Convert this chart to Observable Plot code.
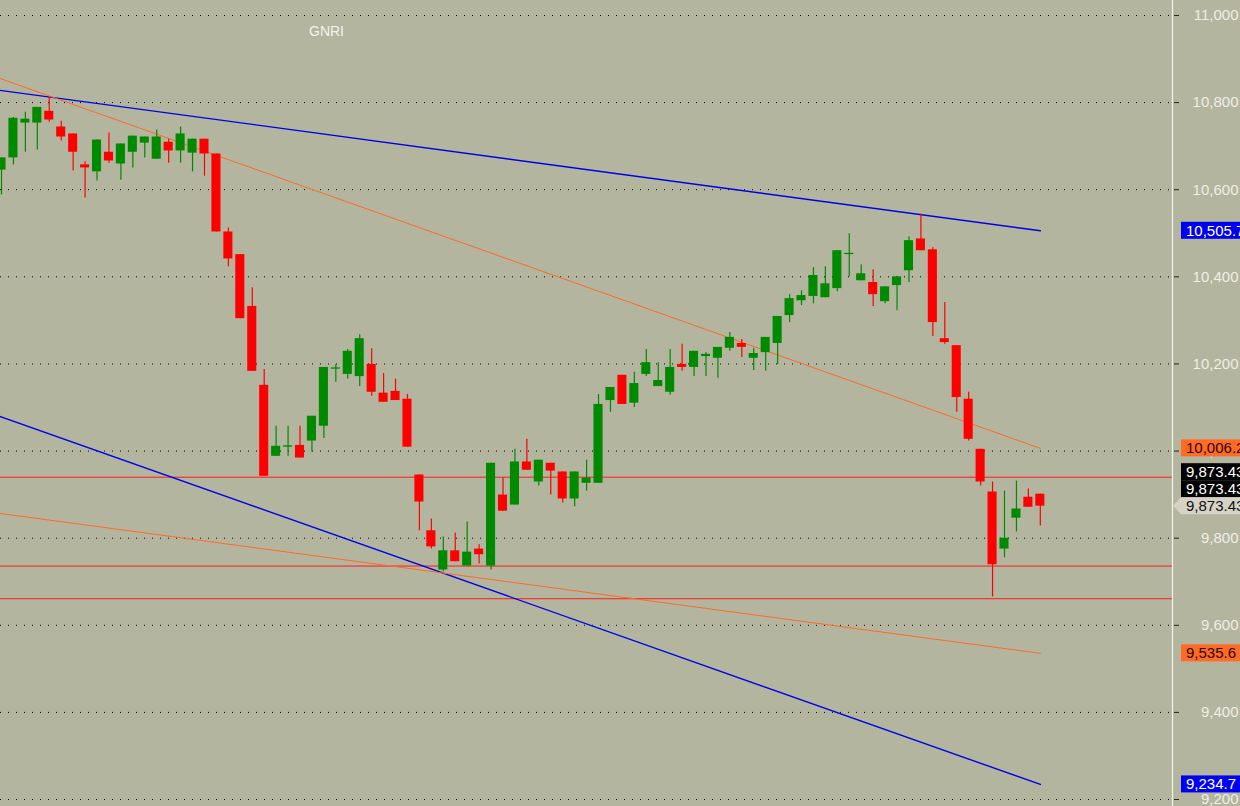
<!DOCTYPE html>
<html><head><meta charset="utf-8">
<script src="https://cdn.jsdelivr.net/npm/d3@7"></script>
<script src="https://cdn.jsdelivr.net/npm/@observablehq/plot@0.6"></script>
<style>
html,body{margin:0;padding:0;background:#b4b59e;overflow:hidden}
#chart svg{display:block}
</style>
</head><body><div id="chart"></div>
<script>
const title = "GNRI";
const opens  = [10645,10673,10753,10753,10780,10744,10728,10657,10641,10686,10659,10686,10707,10670,10709,10689,10684,10716,10682,10503,10451,10332,10151,9988,10009,10013,10023,10057,10188,10176,10171,10199,10133,10137,10119,9945,9817,9727,9771,9736,9775,9736,9899,9876,9975,9929,9972,9952,9890,9926,9926,10116,10174,10110,10176,10148,10135,10199,10192,10217,10213,10236,10247,10213,10226,10247,10311,10345,10355,10352,10373,10451,10391,10387,10343,10380,10414,10487,10462,10258,10242,10119,10004,9906,9775,9846,9894,9901];
const highs  = [10673,10766,10778,10789,10812,10757,10728,10664,10714,10730,10705,10723,10721,10737,10716,10744,10716,10716,10682,10512,10451,10375,10187,10057,10057,10057,10080,10192,10199,10233,10267,10235,10178,10165,10130,9945,9844,9803,9812,9837,9785,9972,9938,10004,10027,9979,9972,9952,9952,9979,10130,10146,10174,10181,10233,10203,10233,10245,10229,10226,10238,10272,10256,10236,10261,10309,10359,10368,10421,10423,10460,10499,10428,10416,10377,10400,10492,10544,10467,10341,10242,10135,10004,9929,9908,9931,9913,9901];
const lows   = [10588,10657,10686,10691,10755,10712,10643,10581,10620,10661,10622,10650,10673,10670,10661,10661,10641,10631,10503,10423,10304,10183,9942,9988,9988,9984,9997,10029,10158,10165,10148,10126,10112,10116,10009,9817,9775,9723,9746,9736,9741,9727,9862,9876,9956,9920,9899,9881,9872,9908,9926,10089,10107,10100,10171,10148,10128,10183,10171,10171,10167,10229,10215,10185,10183,10199,10295,10334,10338,10352,10366,10400,10391,10332,10338,10322,10387,10460,10263,10245,10089,10023,9920,9665,9755,9814,9871,9828];
const closes = [10673,10764,10762,10789,10760,10721,10686,10650,10714,10666,10705,10723,10721,10721,10689,10728,10716,10682,10503,10441,10304,10183,9942,10011,10012,9984,10080,10192,10191,10229,10258,10135,10112,10116,10009,9883,9780,9771,9746,9768,9762,9972,9862,9975,9956,9979,9954,9890,9952,9938,10107,10146,10107,10155,10203,10162,10192,10192,10229,10222,10238,10261,10238,10224,10261,10309,10350,10357,10403,10384,10460,10454,10407,10359,10377,10400,10483,10460,10295,10249,10123,10027,9929,9739,9800,9867,9871,9873.43];

const yTicks = [9200,9400,9600,9800,10000,10200,10400,10600,10800,11000];

// trend lines: value at bar index -1 and at the last bar (index 87)
const trendNames    = ["upperBlue","upperOrange","lowerBlue","lowerOrange"];
const trendStartIdx = [-1,-1,-1,-1];
const trendStartVal = [10831.4,10864,10088,9860];
const trendEndIdx   = [87,87,87,87];
const trendEndVal   = [10505.7,10006.2,9234.7,9535.6];

// horizontal levels
const levels = [9940,9736,9661];
const lastPrice = 9873.43;

// ---------- styles ----------
const BG = "#b4b59e";
const UP = "#008a00", DOWN = "#ff0000";
const trendColor = {upperBlue:"#0000e6", lowerBlue:"#0000e6", upperOrange:"#ff6a2a", lowerOrange:"#ff6a2a"};
const trendWidth = {upperBlue:1.4, lowerBlue:1.4, upperOrange:1, lowerOrange:1};
const FONT = "'Liberation Sans', Arial, sans-serif";

const candles = opens.map((o,i)=>({i, open:o, high:highs[i], low:lows[i], close:closes[i]}));
const trendPts = trendNames.flatMap((n,k)=>[
  {name:n, i:trendStartIdx[k], v:trendStartVal[k]},
  {name:n, i:trendEndIdx[k], v:trendEndVal[k]}
]);
const col = d => d.close >= d.open ? UP : DOWN;

const chart = Plot.plot({
  width: 1240, height: 806,
  marginTop: 0, marginBottom: 0, marginLeft: 0, marginRight: 68,
  style: {background: BG, fontFamily: FONT, overflow: "visible"},
  x: {domain: [-0.0838, 98.07], axis: null},
  y: {domain: [9184, 11034.4], axis: null},
  marks: [
    Plot.ruleY(yTicks, {stroke: "#000", strokeDasharray: "1,7", strokeWidth: 1}),
    Plot.ruleY(levels, {stroke: "#ff1a1a", strokeWidth: 1}),
    Plot.line(trendPts, {x: "i", y: "v", z: "name", stroke: d => trendColor[d.name], strokeWidth: d => trendWidth[d.name], clip: true}),
    Plot.ruleX(candles, {x: "i", y1: "low", y2: "high", stroke: col, strokeWidth: 1.2, clip: true}),
    Plot.rect(candles, {x1: d => d.i - 0.38, x2: d => d.i + 0.38, y1: "open", y2: "close", fill: col, clip: true}),
    Plot.ruleX([98.07], {stroke: "#f4f4ee", strokeWidth: 1.2}),
    Plot.axisY({anchor: "right", ticks: yTicks, tickSize: 5, tickFormat: () => "", stroke: "#222", label: null, dx: 1}),
    Plot.text(yTicks, {y: d => d, text: d => d3.format(",")(d), frameAnchor: "right", textAnchor: "end", dx: 66, fill: "#eeeee6", fontSize: 15}),
    Plot.text([title], {frameAnchor: "top-left", dx: 326, dy: 26, textAnchor: "middle", fill: "#f4f4ee", fontSize: 14})
  ]
});

// price labels in the right margin, positioned with the chart's own y scale
const ys = chart.scale("y");
const svg = d3.select(chart);
const g = svg.append("g").attr("font-family", FONT).attr("font-size", 15).attr("text-anchor", "start");
const labels = [
  {v: trendEndVal[0], text: d3.format(",.1f")(trendEndVal[0]), fill: "#0000f0", color: "#ffffff", off: 0},
  {v: trendEndVal[1], text: d3.format(",.1f")(trendEndVal[1]), fill: "#ff6a24", color: "#2a0800", off: 0},
  {v: lastPrice, text: d3.format(",.2f")(lastPrice), fill: "#000000", color: "#ffffff", off: -34},
  {v: lastPrice, text: d3.format(",.2f")(lastPrice), fill: "#000000", color: "#ffffff", off: -17},
  {v: lastPrice, text: d3.format(",.2f")(lastPrice), fill: "#d6d3c6", color: "#111111", off: 0, arrow: true},
  {v: trendEndVal[3], text: d3.format(",.1f")(trendEndVal[3]), fill: "#ff6a24", color: "#2a0800", off: 0},
  {v: trendEndVal[2], text: d3.format(",.1f")(trendEndVal[2]), fill: "#0000f0", color: "#ffffff", off: 0}
];
for (const l of labels) {
  const y = ys.apply(l.v) + l.off;
  if (l.arrow) {
    g.append("path").attr("d", `M1173,${y} L1181,${y-8.5} L1240,${y-8.5} L1240,${y+8.5} L1181,${y+8.5} Z`).attr("fill", l.fill);
  } else {
    g.append("rect").attr("x", 1181).attr("y", y - 8.5).attr("width", 59).attr("height", 17).attr("fill", l.fill);
  }
  g.append("text").attr("x", 1186).attr("y", y).attr("dy", "0.36em").attr("text-anchor", "start").attr("fill", l.color).text(l.text);
}

document.getElementById("chart").appendChild(chart);
</script>
</body></html>
